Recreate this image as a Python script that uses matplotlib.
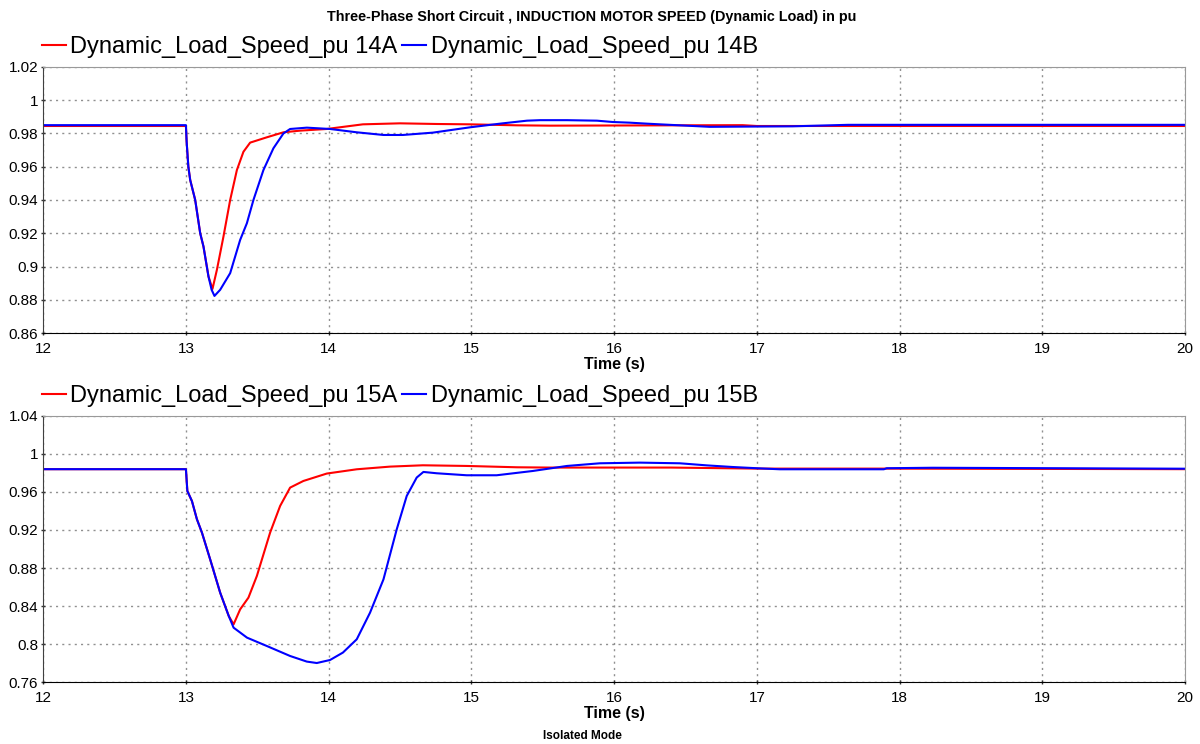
import matplotlib
matplotlib.use("Agg")
import matplotlib.pyplot as plt
from matplotlib.ticker import FuncFormatter, MultipleLocator

plt.rcParams['font.family'] = ['Liberation Sans', 'DejaVu Sans']

# bus 14 speeds (pu)
t_14a = [12.0, 13.0, 13.005, 13.017, 13.03, 13.065, 13.10, 13.123, 13.158, 13.186, 13.217,
         13.263, 13.31, 13.357, 13.403, 13.45, 13.567, 13.683, 13.80, 13.987, 14.24, 14.50,
         14.76, 14.99, 15.32, 15.55, 16.9, 17.0, 20.0]
w_14a = [0.9845, 0.9845, 0.975, 0.960, 0.952, 0.940, 0.920, 0.912, 0.894, 0.8865, 0.898,
         0.918, 0.940, 0.958, 0.969, 0.9745, 0.9777, 0.9807, 0.9817, 0.9827, 0.9855, 0.9861,
         0.9857, 0.9855, 0.9849, 0.9847, 0.985, 0.9845, 0.9845]

t_14b = [12.0, 13.0, 13.005, 13.017, 13.03, 13.065, 13.10, 13.123, 13.158, 13.18, 13.20,
         13.24, 13.31, 13.38, 13.427, 13.473, 13.543, 13.613, 13.683, 13.73, 13.847, 14.01,
         14.197, 14.384, 14.52, 14.73, 14.99, 15.22, 15.39, 15.48, 15.67, 15.88, 15.99,
         16.11, 16.23, 16.32, 16.46, 16.67, 17.25, 17.64, 20.0]
w_14b = [0.985, 0.985, 0.975, 0.960, 0.952, 0.940, 0.920, 0.912, 0.894, 0.886, 0.8823,
         0.886, 0.896, 0.916, 0.926, 0.940, 0.958, 0.9711, 0.980, 0.9827, 0.9835, 0.9827,
         0.9807, 0.9791, 0.9791, 0.9805, 0.9837, 0.9861, 0.9877, 0.988, 0.988, 0.9877, 0.9869,
         0.9865, 0.9859, 0.9855, 0.9849, 0.984, 0.9843, 0.9852, 0.9852]

# bus 15 speeds (pu)
t_15a = [12.0, 13.0, 13.01, 13.042, 13.077, 13.112, 13.17, 13.24, 13.30, 13.334, 13.38,
         13.438, 13.497, 13.59, 13.66, 13.73, 13.823, 13.987, 14.197, 14.43, 14.66, 14.967,
         15.32, 15.55, 16.4, 17.0, 17.9, 20.0]
w_15a = [0.984, 0.984, 0.961, 0.9505, 0.9313, 0.9173, 0.889, 0.854, 0.8295, 0.8207, 0.8365,
         0.8488, 0.8716, 0.9173, 0.9453, 0.9646, 0.9716, 0.9794, 0.9839, 0.9867, 0.9881, 0.9874,
         0.986, 0.9857, 0.9857, 0.9846, 0.9846, 0.984]

t_15b = [12.0, 13.0, 13.01, 13.042, 13.077, 13.112, 13.17, 13.24, 13.30, 13.334, 13.428,
         13.567, 13.73, 13.847, 13.917, 14.01, 14.10, 14.197, 14.29, 14.384, 14.477, 14.547,
         14.617, 14.664, 14.757, 14.967, 15.177, 15.43, 15.67, 15.90, 16.18, 16.46, 16.65,
         16.83, 17.0, 17.16, 17.89, 17.91, 18.23, 20.0]
w_15b = [0.984, 0.984, 0.961, 0.9505, 0.9313, 0.9173, 0.889, 0.854, 0.8295, 0.8172, 0.8067,
         0.7979, 0.7874, 0.7815, 0.780, 0.7832, 0.791, 0.805, 0.833, 0.868, 0.9207, 0.9558,
         0.9752, 0.9811, 0.9797, 0.9776, 0.9776, 0.9821, 0.9874, 0.9902, 0.9909, 0.9902, 0.988,
         0.9863, 0.985, 0.9839, 0.9839, 0.985, 0.9855, 0.9845]

panels = [
    (t_14a, w_14a, t_14b, w_14b, "14A", "14B", (0.86, 1.02), 0.02),
    (t_15a, w_15a, t_15b, w_15b, "15A", "15B", (0.76, 1.04), 0.04),
]

fig = plt.figure(figsize=(12, 7.44), dpi=100)
ax_top = fig.add_axes([0.036, 0.5524, 0.9515, 0.3576])
ax_bot = fig.add_axes([0.036, 0.0833, 0.9515, 0.3576])

for ax, (ta, wa, tb, wb, la, lb, ylim, ystep) in zip([ax_top, ax_bot], panels):
    ax.plot(ta, wa, color="#ff0000", lw=1.5, label="Dynamic_Load_Speed_pu " + la)
    ax.plot(tb, wb, color="#0000ff", lw=1.5, label="Dynamic_Load_Speed_pu " + lb)
    ax.set_xlim(12, 20)
    ax.set_ylim(*ylim)
    ax.xaxis.set_major_locator(MultipleLocator(1))
    ax.yaxis.set_major_locator(MultipleLocator(ystep))
    ax.yaxis.set_major_formatter(FuncFormatter(lambda v, p: "%g" % round(v, 2)))
    ax.grid(True, color="#909090", linestyle=(0, (1.5, 3)), linewidth=1)
    ax.tick_params(labelsize=11, length=3, width=1, direction="inout",
                   colors="#333333", labelcolor="black")
    ax.tick_params(axis="x", pad=5)
    ax.tick_params(axis="y", pad=2)
    ax.spines["left"].set_color("#404040")
    ax.spines["bottom"].set_color("black")
    ax.spines["top"].set_color("#999999")
    ax.spines["right"].set_color("#999999")
    ax.set_xlabel("Time (s)", fontsize=11.5, fontweight="bold", labelpad=1)
    ax.legend(loc="lower left", bbox_to_anchor=(-0.001, 1.032), ncol=2, frameon=False,
              fontsize=17, handlelength=1.0, handletextpad=0.2, columnspacing=0.2,
              borderaxespad=0, borderpad=0)

fig.text(0.4933, 0.977, "Three-Phase Short Circuit , INDUCTION MOTOR SPEED (Dynamic Load) in pu",
         ha="center", va="center", fontsize=10.4, fontweight="bold")
fig.text(0.485, 0.011, "Isolated Mode", ha="center", va="center", fontsize=8.5, fontweight="bold")

fig.savefig("out.png", dpi=100)
